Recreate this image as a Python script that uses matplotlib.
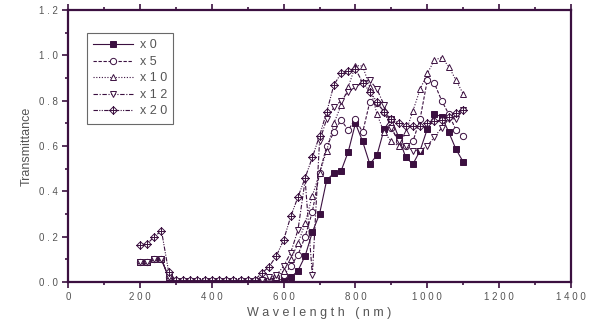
import matplotlib
matplotlib.use("Agg")
import matplotlib.pyplot as plt
import numpy as np
from matplotlib.path import Path

wl = np.arange(200, 1101, 20)

# 200..500 nm
low = [0.09, 0.09, 0.10, 0.10, 0.02] + [0.005] * 11
# 520..1100 nm
x0 = low + [0.005, 0.005, 0.005, 0.01, 0.01, 0.02, 0.05, 0.115, 0.22, 0.30,
            0.45, 0.48, 0.49, 0.575, 0.70, 0.62, 0.52, 0.56, 0.675, 0.72,
            0.64, 0.55, 0.52, 0.58, 0.675, 0.74, 0.73, 0.66, 0.585, 0.53]
x5 = low + [0.005, 0.01, 0.01, 0.02, 0.03, 0.07, 0.12, 0.20, 0.31, 0.48,
            0.60, 0.66, 0.715, 0.67, 0.72, 0.66, 0.795, 0.79, 0.75, 0.68,
            0.62, 0.60, 0.62, 0.72, 0.89, 0.876, 0.80, 0.74, 0.67, 0.645]
x10 = low + [0.005, 0.01, 0.01, 0.02, 0.05, 0.10, 0.17, 0.26, 0.38, 0.48,
             0.58, 0.70, 0.78, 0.86, 0.955, 0.953, 0.86, 0.74, 0.66, 0.62,
             0.60, 0.66, 0.755, 0.85, 0.92, 0.98, 0.99, 0.95, 0.89, 0.83]
x12 = low + [0.005, 0.01, 0.02, 0.03, 0.07, 0.13, 0.23, 0.45, 0.03, 0.62,
             0.72, 0.77, 0.80, 0.84, 0.86, 0.88, 0.89, 0.85, 0.78, 0.68,
             0.62, 0.60, 0.58, 0.58, 0.60, 0.64, 0.68, 0.72, 0.72, 0.76]
x20 = [0.165, 0.168, 0.20, 0.226, 0.045] + [0.008] * 11 + \
      [0.01, 0.04, 0.068, 0.116, 0.185, 0.29, 0.375, 0.46, 0.55, 0.645,
       0.75, 0.87, 0.92, 0.93, 0.94, 0.88, 0.84, 0.795, 0.75, 0.72,
       0.70, 0.69, 0.69, 0.69, 0.70, 0.71, 0.715, 0.73, 0.745, 0.76]

labels = ["x 0", "x 5", "x 1 0", "x 1 2", "x 2 0"]

c = "#3b1040"
tc = "#555555"

# diamond with a cross for the x20 series
cross_diamond = Path(
    [(0, 1), (1, 0), (0, -1), (-1, 0), (0, 1), (0, 1), (0, -1), (-1, 0), (1, 0)],
    [Path.MOVETO, Path.LINETO, Path.LINETO, Path.LINETO, Path.CLOSEPOLY,
     Path.MOVETO, Path.LINETO, Path.MOVETO, Path.LINETO])

plt.rcParams['font.family'] = ['Liberation Sans', 'DejaVu Sans']

fig = plt.figure(figsize=(5.92, 3.25), dpi=100)
ax = fig.add_axes([0.115, 0.1323, 0.8495, 0.8369])

series = [x0, x5, x10, x12, x20]
styles = ['-', (0, (3, 1.5)), (0, (1, 1.5)), (0, (4, 1.5, 1, 1.5)), (0, (4, 1.2, 1, 1.2, 1, 1.2))]
markers = ['s', 'o', '^', 'v', cross_diamond]
for y, ls, m, lab in zip(series, styles, markers, labels):
    fc = c if m == 's' else 'white'
    ms = 4.5 if m is not cross_diamond else 5.5
    ax.plot(wl, y, linestyle=ls, color=c, lw=0.8, marker=m, markersize=ms,
            markerfacecolor=fc, markeredgecolor=c, markeredgewidth=0.7, label=lab)

ax.set_xlim(0, 1400)
ax.set_ylim(0, 1.2)
ax.set_xticks(np.arange(0, 1401, 200))
ax.set_xticks(np.arange(100, 1400, 200), minor=True)
ax.set_yticks(np.arange(0, 1.21, 0.2))
ax.set_yticks(np.arange(0.1, 1.2, 0.2), minor=True)
ax.set_xticklabels([" ".join(str(v)) for v in range(0, 1401, 200)])
ax.set_yticklabels([" ".join("%.1f" % v) for v in np.arange(0, 1.21, 0.2)])

for s in ax.spines.values():
    s.set_color(c)
    s.set_linewidth(1.6)
ax.tick_params(which='both', color=c, width=1.2, labelcolor=tc, labelsize=7, top=True, right=False)
ax.tick_params(which='major', length=4)
ax.tick_params(which='minor', length=2.5)

ax.set_xlabel("W a v e l e n g t h   ( n m )", color=tc, fontsize=9, labelpad=3)
ax.set_ylabel("Transmittance", color=tc, fontsize=9)

leg = ax.legend(loc='upper left', bbox_to_anchor=(0.038, 0.915), fontsize=9,
                frameon=True, fancybox=False, handlelength=3.2, labelspacing=0.36,
                borderpad=0.5, handletextpad=0.5, borderaxespad=0)
leg.get_frame().set_edgecolor("#444444")
leg.get_frame().set_linewidth(0.8)
for t in leg.get_texts():
    t.set_color(tc)

fig.savefig("out.png", dpi=100)
